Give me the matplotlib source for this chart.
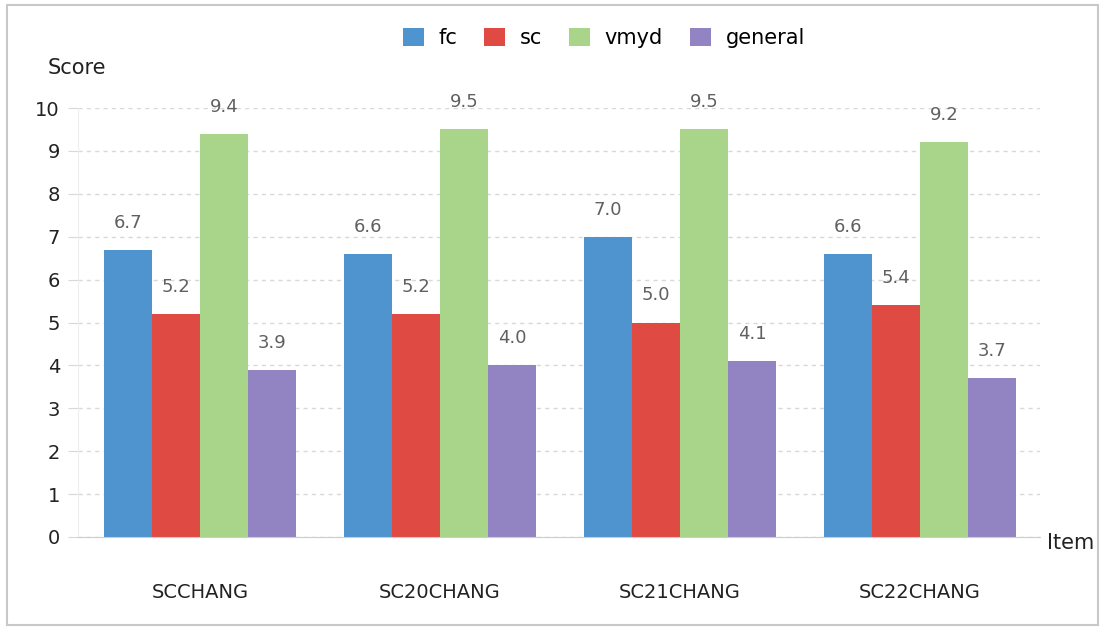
import numpy as np
import matplotlib.pyplot as plt
from matplotlib.patches import Rectangle

categories = ['SCCHANG', 'SC20CHANG', 'SC21CHANG', 'SC22CHANG']
series = ['fc', 'sc', 'vmyd', 'general']
fc = [6.7, 6.6, 7.0, 6.6]
sc = [5.2, 5.2, 5.0, 5.4]
vmyd = [9.4, 9.5, 9.5, 9.2]
general = [3.9, 4.0, 4.1, 3.7]
colors = ['#4f93cf', '#df4a43', '#a9d58b', '#9284c2']

W, H = 1103, 627
fig = plt.figure(figsize=(W / 100, H / 100), dpi=100)
ax = fig.add_axes([78 / W, (H - 537) / H, (1040 - 78) / W, (537 - 108) / H])

x = np.arange(len(categories))
bw = 0.2
for i, (name, vals) in enumerate(zip(series, [fc, sc, vmyd, general])):
    pos = x + (i - 1.5) * bw
    ax.bar(pos, vals, width=bw, color=colors[i], label=name, zorder=2)
    for p, v in zip(pos, vals):
        ax.text(p, v + 0.42, f'{v:.1f}', ha='center', va='bottom',
                fontsize=13, color='#606060', clip_on=False)

ax.set_xlim(-0.508, 3.5)
ax.set_ylim(0, 10)
ax.set_yticks(range(11))
ax.yaxis.grid(True, linestyle=(0, (3, 3)), color='#d8d8d8', linewidth=1, zorder=0)
ax.tick_params(axis='y', length=7, color='#d8d8d8', labelsize=14, pad=6,
               labelcolor='#222222')
ax.set_xticks(x)
ax.set_xticklabels(categories, fontsize=14, color='#222222')
ax.tick_params(axis='x', length=0, pad=33)
for s in ['top', 'right']:
    ax.spines[s].set_visible(False)
ax.spines['left'].set_color('#eeeeee')
ax.spines['bottom'].set_color('#cccccc')

fig.text(48 / W, 1 - 68 / H, 'Score', fontsize=15, color='#222222', va='center')
fig.text(1047 / W, 1 - 543 / H, 'Item', fontsize=15, color='#222222', va='center')

fig.legend(loc='center', bbox_to_anchor=(604 / W, 1 - 38 / H), ncol=4,
           frameon=False, fontsize=15, handlelength=1.0, handleheight=1.0,
           columnspacing=1.3, handletextpad=0.7)

fig.patches.append(Rectangle((7 / W, 2 / H), 1091 / W, 620 / H,
                             transform=fig.transFigure, fill=False,
                             edgecolor='#c8c8c8', linewidth=1.5))

fig.savefig('out.png', dpi=100)
